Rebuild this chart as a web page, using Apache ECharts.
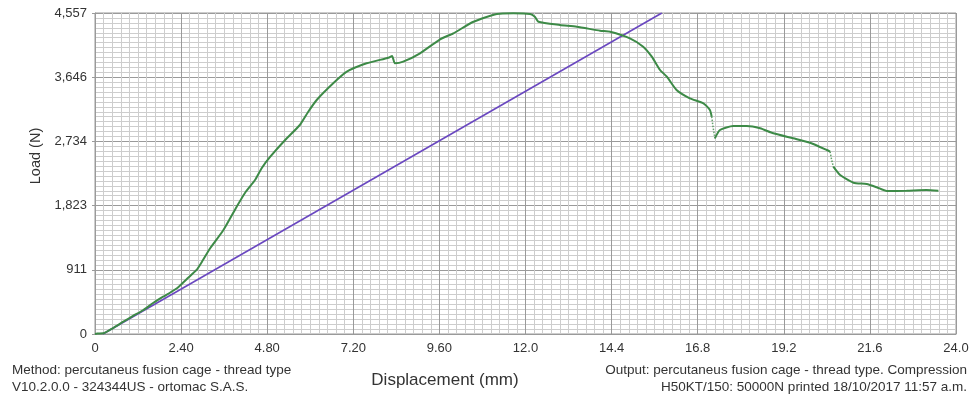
<!DOCTYPE html>
<html>
<head>
<meta charset="utf-8">
<script src="https://cdn.jsdelivr.net/npm/echarts@6/dist/echarts.min.js"></script>
<style>
  html, body { margin: 0; padding: 0; background: #fff; }
  #chart { width: 975px; height: 394px; }
</style>
</head>
<body>
<div id="chart"></div>
<script>
// tick labels as printed on the report
const xLabels = ['0', '2.40', '4.80', '7.20', '9.60', '12.0', '14.4', '16.8', '19.2', '21.6', '24.0'];
const yLabels = ['0', '911', '1,823', '2,734', '3,646', '4,557'];

// measured load curve [displacement mm, load N]; null = gap in the trace
const loadCurve = [
  [0, 0], [0.06, 7], [0.23, 10], [0.50, 85], [0.79, 175], [1.06, 256], [1.35, 341],
  [1.62, 440], [1.90, 530], [2.12, 596], [2.32, 663], [2.56, 781], [2.83, 909],
  [3.01, 1050], [3.21, 1217], [3.58, 1476], [3.95, 1807], [4.18, 2002], [4.46, 2186],
  [4.65, 2357], [4.88, 2513], [5.30, 2754], [5.71, 2967], [5.94, 3152], [6.18, 3322],
  [6.64, 3559], [7.02, 3724], [7.57, 3843], [8.18, 3922], [8.28, 3946], [8.36, 3843],
  [8.59, 3866], [9.06, 3985], [9.62, 4184], [9.99, 4269], [10.55, 4433], [11.20, 4543],
  [11.66, 4552], [12.13, 4543], [12.26, 4504], [12.36, 4433], [12.96, 4387], [13.43, 4362],
  [14.08, 4306], [14.36, 4291], [14.91, 4198], [15.28, 4079], [15.52, 3937], [15.75, 3748],
  [15.94, 3653], [16.21, 3464], [16.58, 3346], [16.96, 3275], [17.14, 3180], [17.19, 3085],
  null,
  [17.28, 2778], [17.42, 2896], [17.79, 2953], [18.17, 2953], [18.54, 2920], [18.91, 2849],
  [19.46, 2778], [19.93, 2716], [20.40, 2612], [20.49, 2588],
  null,
  [20.58, 2375], [20.77, 2257], [21.14, 2148], [21.51, 2129], [21.79, 2083], [22.07, 2030],
  [22.62, 2034], [23.18, 2044], [23.51, 2034]
];

// sparse samples across the two sudden drops (printed dotted)
const dropA = [[17.19, 3085], [17.23, 2930], [17.28, 2778]];
const dropB = [[20.49, 2588], [20.53, 2480], [20.58, 2375]];

// reference slope line
const slopeLine = [[0.22, 0], [15.8, 4557]];

const chart = echarts.init(document.getElementById('chart'));

const font = 'Liberation Sans, Arial, Helvetica, sans-serif';
const green = '#3d8a47';

const option = {
  animation: false,
  backgroundColor: '#fff',
  grid: {
    left: 95, right: 19, top: 13, bottom: 60,
    show: true, borderColor: '#9a9a9a', borderWidth: 1
  },
  xAxis: {
    type: 'value',
    min: 0, max: 24, interval: 2.4,
    axisLine: { show: true, lineStyle: { color: '#9a9a9a' } },
    axisTick: { show: false },
    axisLabel: {
      color: '#333', fontSize: 13, fontFamily: font, margin: 8,
      formatter: (v) => xLabels[Math.round(v / 2.4)]
    },
    splitLine: { show: true, lineStyle: { color: '#9a9a9a', width: 1 } },
    minorTick: { show: false, splitNumber: 10 },
    minorSplitLine: { show: true, lineStyle: { color: '#cdcdcd', width: 1 } }
  },
  yAxis: {
    type: 'value',
    min: 0, max: 4557, interval: 911.4,
    axisLine: { show: true, lineStyle: { color: '#9a9a9a' } },
    axisTick: { show: true, length: 3, lineStyle: { color: '#9a9a9a' } },
    axisLabel: {
      color: '#333', fontSize: 13, fontFamily: font, margin: 8,
      formatter: (v) => yLabels[Math.round(v / 911.4)]
    },
    splitLine: { show: true, lineStyle: { color: '#9a9a9a', width: 1 } },
    minorTick: { show: false, splitNumber: 13 },
    minorSplitLine: { show: true, lineStyle: { color: '#cdcdcd', width: 1 } }
  },
  series: [
    {
      type: 'line',
      data: slopeLine,
      showSymbol: false,
      lineStyle: { color: '#6a48c0', width: 1.6 },
      z: 3
    },
    {
      type: 'line',
      data: loadCurve,
      showSymbol: false,
      connectNulls: false,
      smooth: 0.2,
      lineStyle: { color: green, width: 2 },
      z: 4
    },
    {
      type: 'line',
      data: dropA,
      showSymbol: false,
      lineStyle: { color: green, width: 1.5, type: 'dotted', opacity: 0.8 },
      z: 4
    },
    {
      type: 'line',
      data: dropB,
      showSymbol: false,
      lineStyle: { color: green, width: 1.5, type: 'dotted', opacity: 0.8 },
      z: 4
    }
  ],
  graphic: [
    {
      type: 'text', left: 12, top: 363,
      style: { text: 'Method: percutaneus fusion cage - thread type', fill: '#333', font: '13.5px ' + font }
    },
    {
      type: 'text', left: 12, top: 380,
      style: { text: 'V10.2.0.0 - 324344US - ortomac S.A.S.', fill: '#333', font: '13.5px ' + font }
    },
    {
      type: 'text', right: 8, top: 363,
      style: { text: 'Output: percutaneus fusion cage - thread type. Compression', fill: '#333', font: '13.5px ' + font, textAlign: 'right' }
    },
    {
      type: 'text', right: 8, top: 380,
      style: { text: 'H50KT/150: 50000N printed 18/10/2017 11:57 a.m.', fill: '#333', font: '13.5px ' + font, textAlign: 'right' }
    },
    {
      type: 'text', x: 445, y: 380,
      style: { text: 'Displacement (mm)', fill: '#333', font: '17px ' + font, textAlign: 'center', textVerticalAlign: 'middle' }
    },
    {
      type: 'text', x: 36, y: 156, rotation: Math.PI / 2,
      style: { text: 'Load (N)', fill: '#333', font: '14.5px ' + font, textAlign: 'center', textVerticalAlign: 'middle' }
    }
  ]
};

chart.setOption(option);
</script>
</body>
</html>
